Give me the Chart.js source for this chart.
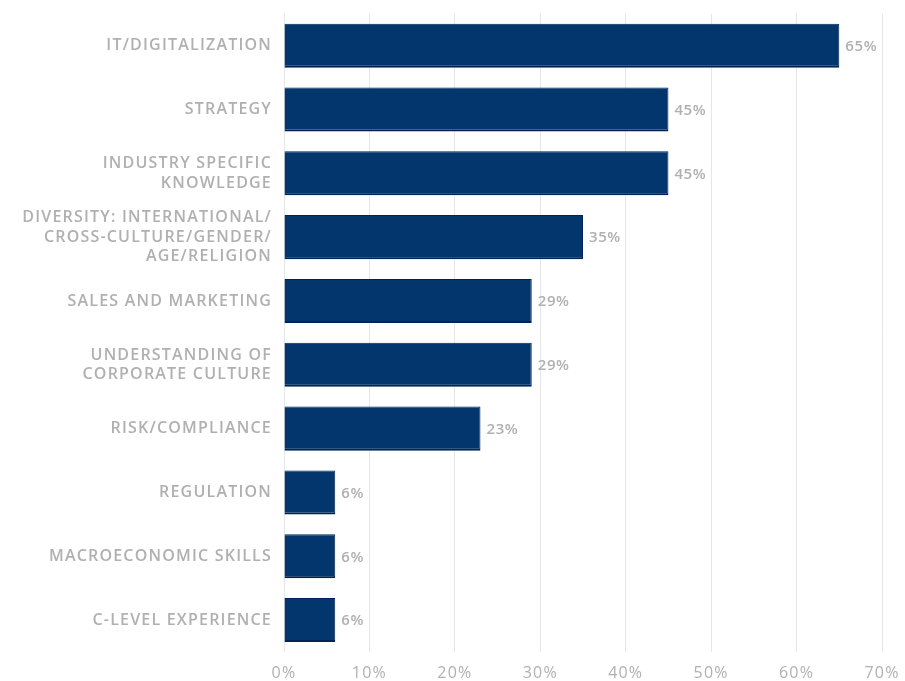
<!DOCTYPE html>
<html lang="en">
<head>
    <meta charset="UTF-8">
    <title>Skills Wanted on the Board</title>
    <script src="https://cdn.jsdelivr.net/npm/chart.js"></script>
    <style>
        html, body { margin: 0; padding: 0; background: #fff; }
        #wrap { width: 905px; height: 681px; position: relative; }
    </style>
</head>
<body>
    <div id="wrap"><canvas id="skillsChart"></canvas></div>

    <script>
        // Skill areas, top to bottom
        const skills = [
            'IT/DIGITALIZATION',
            'STRATEGY',
            ['INDUSTRY SPECIFIC', 'KNOWLEDGE'],
            ['DIVERSITY: INTERNATIONAL/', 'CROSS-CULTURE/GENDER/', 'AGE/RELIGION'],
            'SALES AND MARKETING',
            ['UNDERSTANDING OF', 'CORPORATE CULTURE'],
            'RISK/COMPLIANCE',
            'REGULATION',
            'MACROECONOMIC SKILLS',
            'C-LEVEL EXPERIENCE'
        ];
        // Share of respondents, in percent
        const shares = [65, 45, 45, 35, 29, 29, 23, 6, 6, 6];
        const xTicks = [0, 10, 20, 30, 40, 50, 60, 70];

        const labelGrey = '#b0b0b0';
        const fontFamily = '"Open Sans", sans-serif';

        // wide tracking on every piece of text
        const tracking = {
            id: 'tracking',
            beforeDraw(chart) {
                chart.ctx.letterSpacing = '1.2px';
            }
        };

        // writes the percentage just past the end of each bar
        const valueLabels = {
            id: 'valueLabels',
            afterDatasetsDraw(chart) {
                const ctx = chart.ctx;
                const meta = chart.getDatasetMeta(0);
                ctx.save();
                ctx.fillStyle = labelGrey;
                ctx.font = '600 15px ' + fontFamily;
                ctx.letterSpacing = '0.6px';
                ctx.textBaseline = 'middle';
                ctx.textAlign = 'left';
                meta.data.forEach((bar, i) => {
                    ctx.fillText(shares[i] + '%', bar.x + 6, bar.y + 1);
                });
                ctx.restore();
            }
        };

        new Chart(document.getElementById('skillsChart'), {
            type: 'bar',
            data: {
                labels: skills,
                datasets: [{
                    data: shares,
                    backgroundColor: '#04366e',
                    borderColor: '#012257',
                    borderWidth: { top: 1, right: 1, bottom: 2, left: 0 },
                    borderSkipped: false,
                    categoryPercentage: 1,
                    barPercentage: 0.69
                }]
            },
            options: {
                indexAxis: 'y',
                responsive: true,
                maintainAspectRatio: false,
                animation: false,
                layout: { padding: { top: 1, right: 0, bottom: 0, left: 0 } },
                plugins: {
                    legend: { display: false },
                    tooltip: { enabled: false }
                },
                scales: {
                    x: {
                        min: 0,
                        max: 70,
                        afterBuildTicks: axis => { axis.ticks = xTicks.map(v => ({ value: v })); },
                        afterFit: axis => {
                            axis.height = 29;
                            axis.paddingRight = 23;
                        },
                        border: { display: false },
                        grid: { color: '#e6e6e6', drawTicks: false, lineWidth: 1 },
                        ticks: {
                            padding: 12,
                            color: labelGrey,
                            font: { family: fontFamily, size: 16 },
                            callback: v => v + '%'
                        }
                    },
                    y: {
                        afterFit: axis => { axis.width = 284; },
                        border: { display: false },
                        grid: { display: false },
                        ticks: {
                            padding: 4,
                            color: labelGrey,
                            font: { family: fontFamily, size: 16, weight: 600, lineHeight: 1.22 }
                        }
                    }
                }
            },
            plugins: [tracking, valueLabels]
        });
    </script>
</body>
</html>
